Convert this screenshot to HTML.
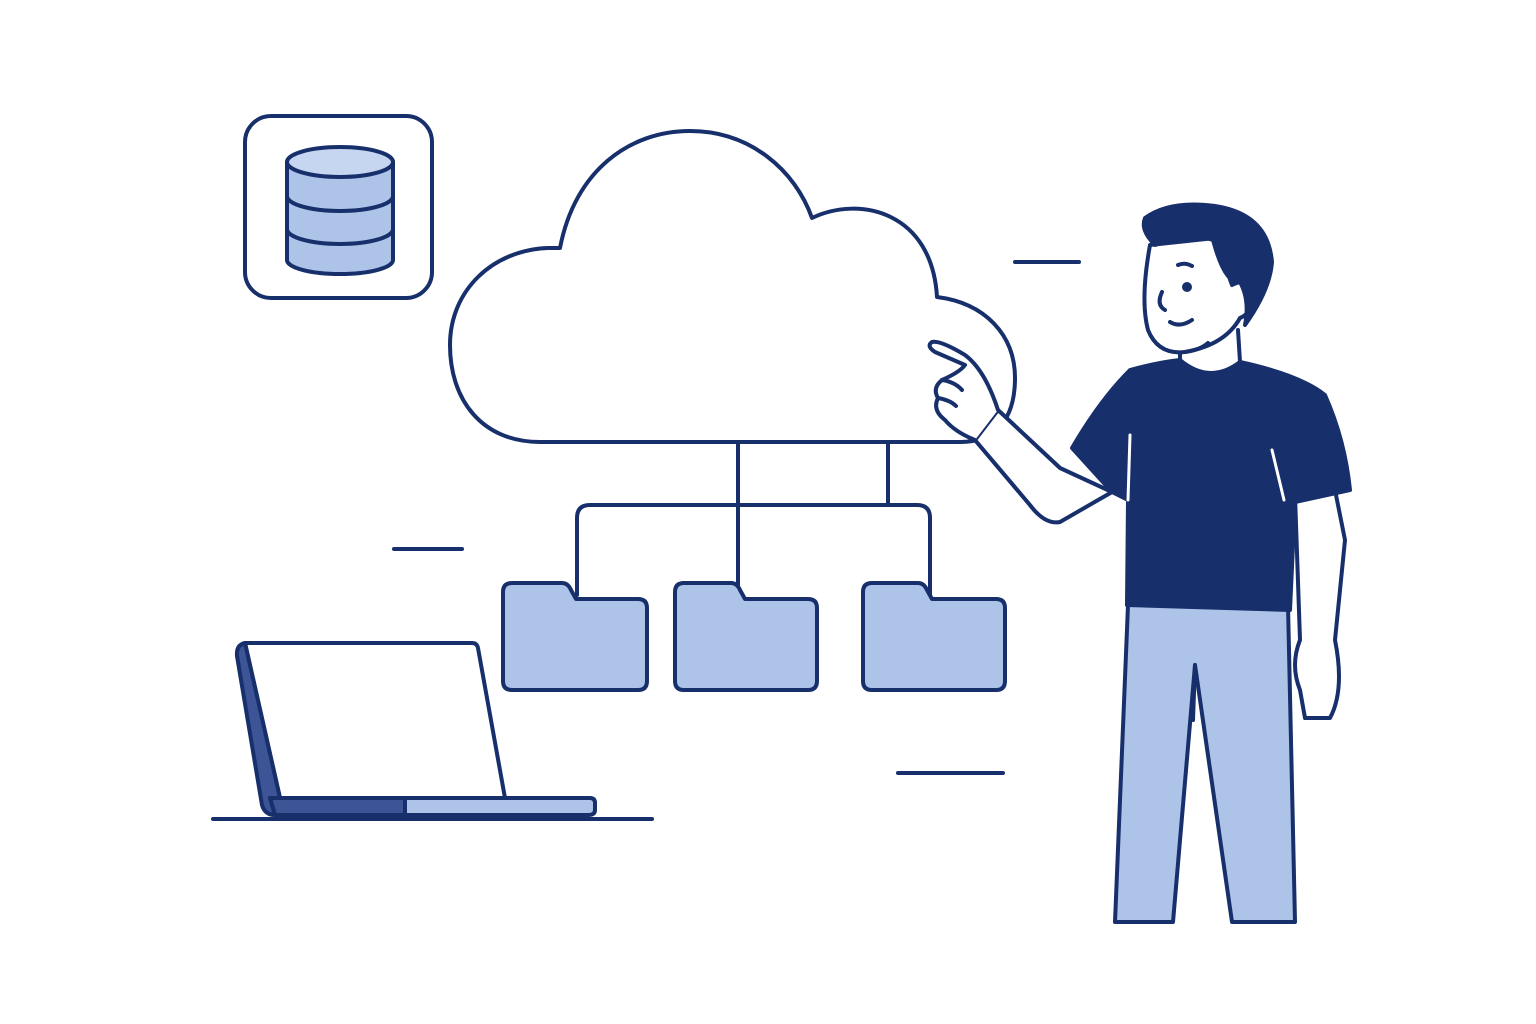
<!DOCTYPE html>
<html><head><meta charset="utf-8"><style>html,body{margin:0;padding:0;background:#fff}svg{display:block}</style></head>
<body>
<svg width="1536" height="1024" viewBox="0 0 1536 1024" xmlns="http://www.w3.org/2000/svg">
<g fill="none" stroke="#172f6b" stroke-width="4" stroke-linecap="round" stroke-linejoin="round">
<!-- database icon -->
<rect x="245" y="116" width="187" height="182" rx="26" fill="#fff"/>
<path d="M287,162 L287,260 A53,14 0 0 0 393,260 L393,162" fill="#aec3e8"/>
<ellipse cx="340" cy="162" rx="53" ry="15" fill="#c7d6f0"/>
<path d="M287,196 A53,15 0 0 0 393,196"/>
<path d="M287,229 A53,15 0 0 0 393,229"/>
<!-- cloud -->
<path d="M540,442 C482,442 450,400 450,345 C450,290 493,250 548,248 L560,248 C575,170 630,131 690,131 C750,131 795,170 812,218 C860,195 932,212 937,297 C985,303 1015,335 1015,378 C1015,420 995,442 960,442 Z" fill="#fff"/>
<!-- connectors -->
<path d="M738,442 V585"/>
<path d="M888,442 V503"/>
<path d="M577,595 V518 Q577,505 590,505 H917 Q930,505 930,518 V595"/>
<!-- folders -->
<g fill="#aec3e8">
<path d="M503,592 Q503,583 512,583 H562 Q568,583 571,590 L576,599 H638 Q647,599 647,608 V681 Q647,690 638,690 H512 Q503,690 503,681 Z"/>
<path d="M675,592 Q675,583 684,583 H731 Q737,583 740,590 L745,599 H808 Q817,599 817,608 V681 Q817,690 808,690 H684 Q675,690 675,681 Z"/>
<path d="M863,592 Q863,583 872,583 H918 Q924,583 927,590 L932,599 H996 Q1005,599 1005,608 V681 Q1005,690 996,690 H872 Q863,690 863,681 Z"/>
</g>
<!-- dashes -->
<path d="M1015,262 H1079"/><path d="M394,549 H462"/><path d="M898,773 H1003"/>
<!-- laptop -->
<path d="M213,819 H652"/>
<path d="M245,643 L472,643 Q477,643 478,648 L505,798 L280,798 Z" fill="#fff"/>
<path d="M245,643 Q236,645 237,656 L262,805 Q265,815 275,815 L280,798 Z" fill="#3d5597"/>
<path d="M270,798 H590 Q595,798 595,803 V810 Q595,815 588,815 H275 Z" fill="#aec3e8"/>
<path d="M270,798 H405 V815 H275 Z" fill="#3d5597"/>
<!-- person: pants -->
<path d="M1128,605 L1115,922 H1173 L1195,665 L1232,922 H1295 L1288,605 Z" fill="#aec3e8"/>
<path d="M1195,665 L1193,720"/>
<!-- arm -->
<path d="M1112,492 L1062,520 Q1045,525 1030,505 L975,440 M1060,468 L1000,412" fill="none"/>
<path d="M1112,492 L1060,522 Q1045,525 1030,505 L975,440 L998,410 L1060,468 Z" fill="#fff"/>
<!-- hand -->
<path d="M975,440 Q955,432 945,420 Q932,410 938,398 Q932,388 942,380 Q960,372 965,365 L935,352 Q926,346 932,342 Q940,340 965,355 Q985,370 998,410" fill="#fff"/>
<path d="M942,380 Q955,382 962,390 M938,398 Q950,400 956,406"/>
<!-- right arm -->
<path d="M1295,495 L1300,640 Q1290,665 1300,690 L1305,718 M1335,490 L1345,540 L1335,640 Q1345,690 1330,718 L1305,718" fill="#fff"/>
<!-- shirt -->
<path d="M1130,370 Q1160,362 1180,360 Q1210,385 1240,362 Q1300,375 1325,395 Q1345,440 1350,490 L1295,502 L1290,610 L1127,605 L1128,500 L1112,492 L1072,448 Q1100,400 1130,370 Z" fill="#172f6b"/>
<path d="M1128,500 L1130,435" stroke="#fff" stroke-width="3"/>
<path d="M1272,450 L1284,500" stroke="#fff" stroke-width="3"/>
<!-- neck -->
<path d="M1180,345 L1180,360 Q1210,385 1240,362 L1238,330" fill="#fff"/>
<!-- head -->
<path d="M1150,245 Q1140,300 1148,330 Q1158,355 1185,352 Q1225,345 1240,318 Q1255,312 1250,290 Q1245,278 1232,285 L1215,238 Z" fill="#fff"/>
<path d="M1145,218 Q1170,200 1215,206 Q1268,214 1272,262 Q1270,290 1245,325 Q1250,300 1240,282 Q1225,285 1213,240 Q1190,232 1155,245 Q1140,230 1145,218 Z" fill="#172f6b"/>
<circle cx="1187" cy="287" r="3" fill="#172f6b"/>
<path d="M1178,265 Q1185,262 1192,266"/>
<path d="M1162,292 Q1156,305 1165,310"/>
<path d="M1170,322 Q1180,328 1192,320"/>
<path d="M1185,352 Q1200,350 1208,343"/>
</g>
</svg>
</body></html>
